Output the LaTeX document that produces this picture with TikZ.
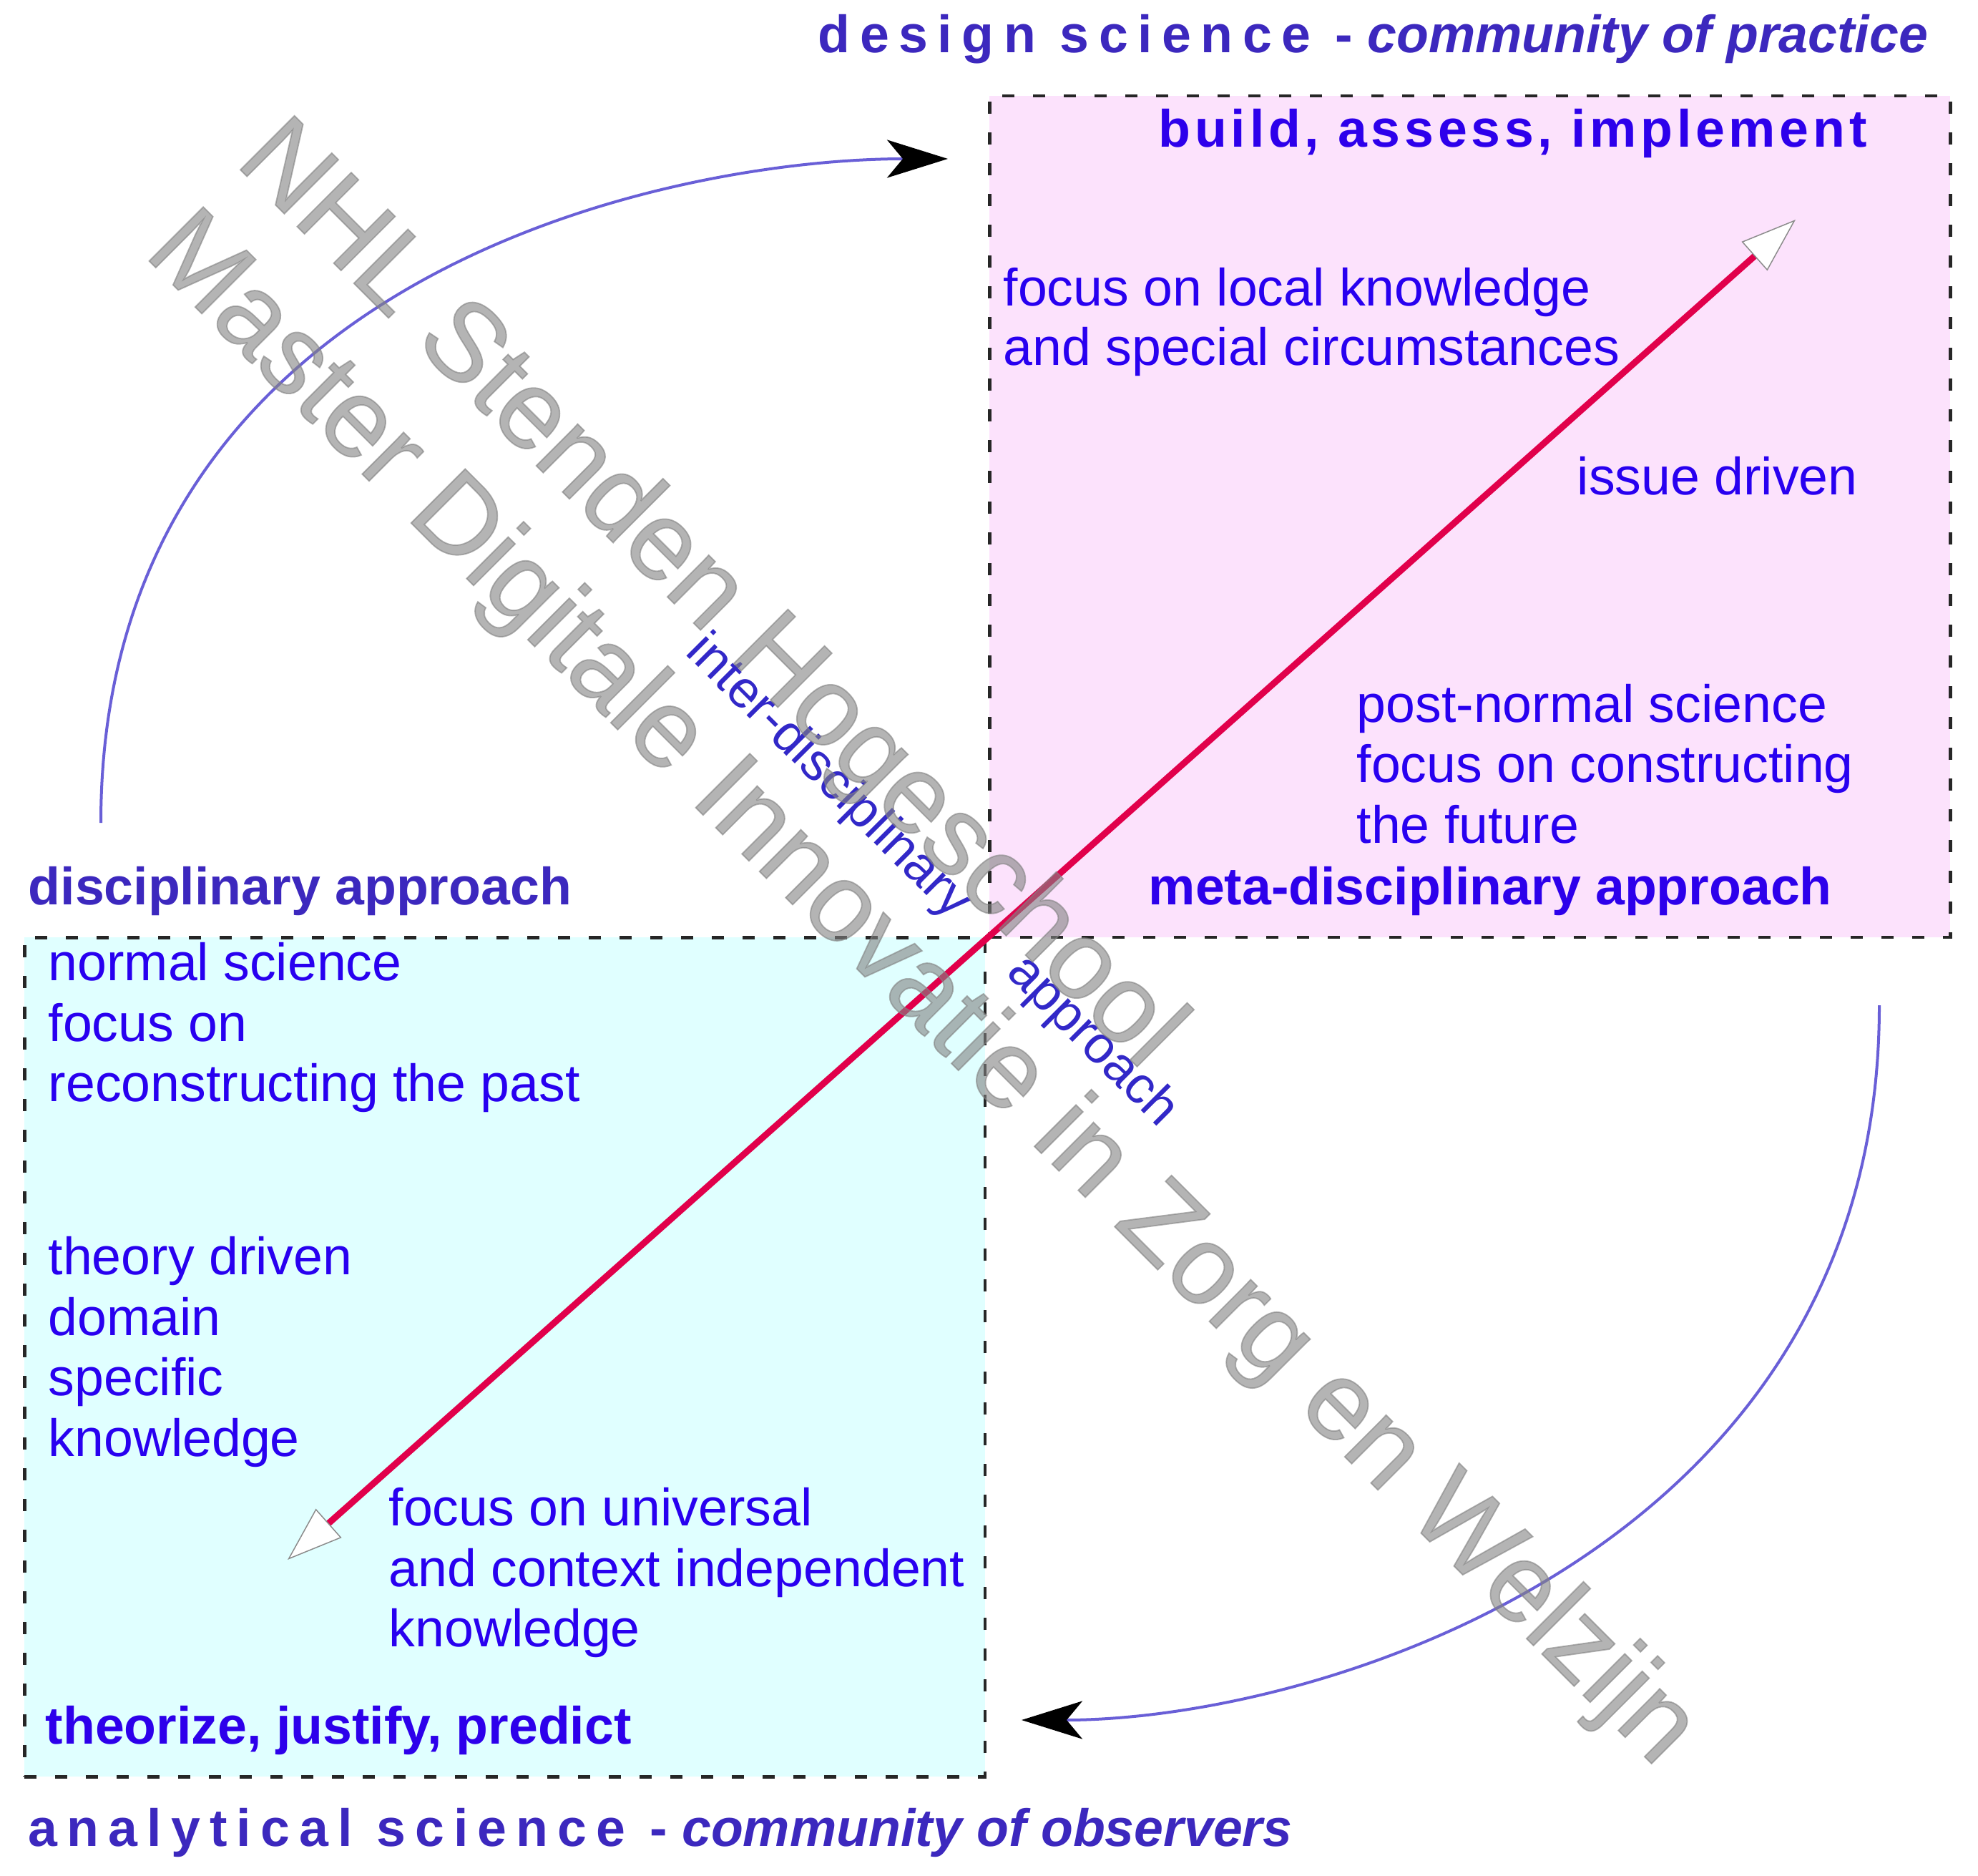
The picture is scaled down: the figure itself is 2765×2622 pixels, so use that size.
\documentclass[tikz,border=0pt]{standalone}
\usepackage{fontspec}
\setmainfont{Liberation Sans}
\usetikzlibrary{arrows.meta}

\definecolor{pinkfill}{RGB}{252,226,252}
\definecolor{cyanfill}{RGB}{224,255,255}
\definecolor{txtblue}{RGB}{40,0,240}
\definecolor{boldblue}{RGB}{45,0,235}
\definecolor{titleblue}{RGB}{60,40,190}
\definecolor{rotblue}{RGB}{50,40,200}
\definecolor{redline}{RGB}{225,0,75}
\definecolor{arcblue}{RGB}{105,95,215}

\newcommand{\mainsize}{\fontsize{20.9pt}{24pt}\selectfont}
\newfontfamily\wmfont[FakeBold=1.2]{Liberation Sans}

\begin{document}
\begin{tikzpicture}[x=0.1mm, y=-0.1mm,
  lbl/.style={anchor=base west, inner sep=0pt, text=txtblue, font=\mainsize},
  blbl/.style={anchor=base west, inner sep=0pt, text=boldblue, font=\mainsize\bfseries},
  ttl/.style={anchor=base west, inner sep=0pt, text=titleblue, font=\mainsize\bfseries},
  quad/.style={draw=black!85, line width=0.45mm, dash pattern=on 1.7mm off 2.6mm, inner sep=0pt, anchor=north west},
  diag/.style={draw=redline, line width=0.9mm,
    {Triangle[length=7.7mm,width=5.4mm,line width=0.15mm,color=black!45,fill=white]}-{Triangle[length=7.7mm,width=5.4mm,line width=0.15mm,color=black!45,fill=white]}},
  cyc/.style={draw=arcblue, line width=0.4mm, -{Stealth[length=8.5mm,width=5.3mm,inset=2.2mm,color=black]}},
  rot/.style={inner sep=0pt, rotate=-45, text=rotblue, font=\fontsize{20.8pt}{24pt}\selectfont},
  wmark/.style={inner sep=0pt, rotate=-45, align=left, text=black!49, text opacity=0.6, font=\wmfont\fontsize{44.2pt}{51.3pt}\selectfont}
]
\fill[white] (0,0) rectangle (2765,2622);
\useasboundingbox (0,0) rectangle (2765,2622);

% quadrant boxes
\node[quad, fill=pinkfill, minimum width=134.3mm, minimum height=117.6mm] (pink) at (1381,132) {};
\node[quad, fill=cyanfill, minimum width=134.3mm, minimum height=117.3mm] (cyan) at (32,1308) {};

% diagonal double arrow
\coordinate (lo) at (402,2180);
\coordinate (hi) at (2510,307);
\draw[diag] (lo) -- (hi);

% titles
\node[ttl] (dstitle) at (1143,74) {{\addfontfeature{LetterSpace=18.4}design science -} {\itshape community of practice}};
\node[ttl] (astitle) at (39,2580) {{\addfontfeature{LetterSpace=17.9}analytical science -} {\itshape community of observers}};

% pink quadrant texts
\node[blbl] (bai) at (1619,206) {\addfontfeature{LetterSpace=7.8}build, assess, implement};
\node[lbl] (loc1) at (1402,428) {focus on local knowledge};
\node[lbl] (loc2) at (1402,511) {and special circumstances};
\node[lbl] (issue) at (2204,691) {issue driven};
\node[lbl] (pn1) at (1896,1009) {post-normal science};
\node[lbl] (pn2) at (1896,1093) {focus on constructing};
\node[lbl] (pn3) at (1896,1178) {the future};
\node[blbl] (meta) at (1605,1264) {meta-disciplinary approach};

% left label
\node[ttl] (disc) at (39,1264) {disciplinary approach};

% cyan quadrant texts
\node[lbl] (ns1) at (67,1370) {normal science};
\node[lbl] (ns2) at (67,1455) {focus on};
\node[lbl] (ns3) at (67,1539) {reconstructing the past};
\node[lbl] (td1) at (67,1781) {theory driven};
\node[lbl] (td2) at (67,1866) {domain};
\node[lbl] (td3) at (67,1950) {specific};
\node[lbl] (td4) at (67,2035) {knowledge};
\node[lbl] (un1) at (543,2132) {focus on universal};
\node[lbl] (un2) at (543,2217) {and context independent};
\node[lbl] (un3) at (543,2301) {knowledge};
\node[blbl] (tjp) at (63,2437) {theorize, justify, predict};

% inter-disciplinary approach (rotated)
\node[rot, anchor=east] (inter) at (1344,1274) {inter-disciplinary};
\node[rot, anchor=west] (appr) at (1418,1348) {approach};

% cycle arrows
\coordinate (a1s) at (141,1150);
\coordinate (a1e) at (1325,222);
\draw[cyc] (a1s) .. controls (141,380) and (940,222) .. (a1e);
\coordinate (a2s) at (2627,1405);
\coordinate (a2e) at (1428,2404);
\draw[cyc] (a2s) .. controls (2628,2170) and (1840,2404) .. (a2e);

% watermark
\node[wmark] (wm) at (1350,1322) {NHL Stenden Hogeschool\\Master Digitale Innovatie in Zorg en Welzijn};
\end{tikzpicture}
\end{document}
